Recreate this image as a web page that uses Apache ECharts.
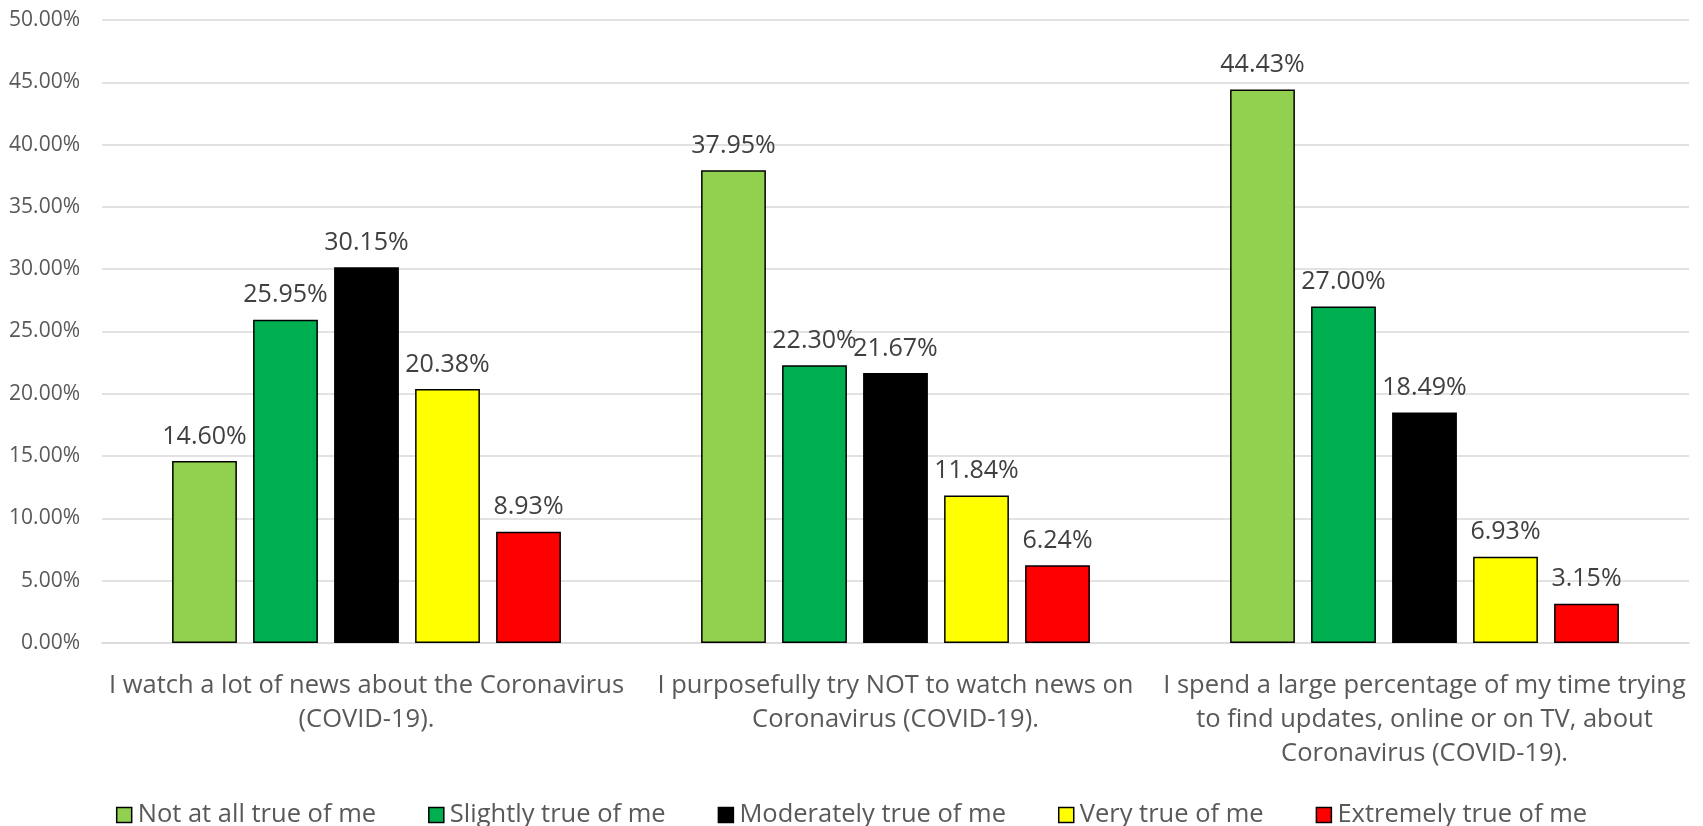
<!DOCTYPE html>
<html>
<head>
<meta charset="utf-8">
<script src="https://cdn.jsdelivr.net/npm/echarts@6/dist/echarts.min.js"></script>
<style>
  html, body { margin: 0; padding: 0; background: #fff; }
  #chart-root { width: 1703px; height: 826px; }
</style>
</head>
<body>
<div id="chart-root"></div>
<script>
// categories and series values (percent)
const categories = [
  'I watch a lot of news about the Coronavirus\n(COVID-19).',
  'I purposefully try NOT to watch news on\nCoronavirus (COVID-19).',
  'I spend a large percentage of my time trying\nto find updates, online or on TV, about\nCoronavirus (COVID-19).'
]
const seriesNames = ['Not at all true of me', 'Slightly true of me', 'Moderately true of me', 'Very true of me', 'Extremely true of me']
const seriesColors = ['#92D050', '#00B050', '#000000', '#FFFF00', '#FF0000']
const notAtAll = [14.60, 37.95, 44.43]
const slightly = [25.95, 22.30, 27.00]
const moderately = [30.15, 21.67, 18.49]
const very = [20.38, 11.84, 6.93]
const extremely = [8.93, 6.24, 3.15]
const seriesValues = [notAtAll, slightly, moderately, very, extremely]

let chart = echarts.init(document.getElementById('chart-root'))

let option = {
  animation: false,
  textStyle: {
    fontFamily: 'Open Sans'
  },
  grid: {
    top: 20,
    bottom: 183,
    left: 102,
    right: 14
  },
  legend: {
    top: 797,
    left: 'center',
    itemWidth: 15,
    itemHeight: 15,
    itemGap: 52,
    icon: 'rect',
    itemStyle: {
      borderColor: '#000',
      borderWidth: 1.5
    },
    textStyle: {
      fontSize: 25.5,
      color: '#595959',
      padding: [0, 0, 0, 1]
    },
    data: seriesNames
  },
  xAxis: {
    type: 'category',
    data: categories,
    axisTick: { show: false },
    axisLine: { lineStyle: { color: '#d9d9d9', width: 1.5 } },
    axisLabel: {
      interval: 0,
      margin: 26,
      fontSize: 25.5,
      lineHeight: 34,
      color: '#595959'
    }
  },
  yAxis: {
    type: 'value',
    min: 0,
    max: 50,
    interval: 5,
    axisLine: { show: false },
    axisTick: { show: false },
    splitLine: { lineStyle: { color: '#d9d9d9', width: 1.5 } },
    axisLabel: {
      margin: 22,
      fontSize: 21,
      color: '#595959',
      formatter (value) {
        return `${value.toFixed(2)}%`
      }
    }
  },
  series: seriesNames.map((name, i) => ({
    name: name,
    type: 'bar',
    barGap: '25%',
    barCategoryGap: '26.5%',
    itemStyle: {
      color: seriesColors[i],
      borderColor: '#000',
      borderWidth: 1.5
    },
    label: {
      show: true,
      position: 'top',
      distance: 12,
      fontSize: 25,
      color: '#404040',
      formatter: params => `${params.value.toFixed(2)}%`
    },
    data: seriesValues[i]
  }))
}

chart.setOption(option)
</script>
</body>
</html>
